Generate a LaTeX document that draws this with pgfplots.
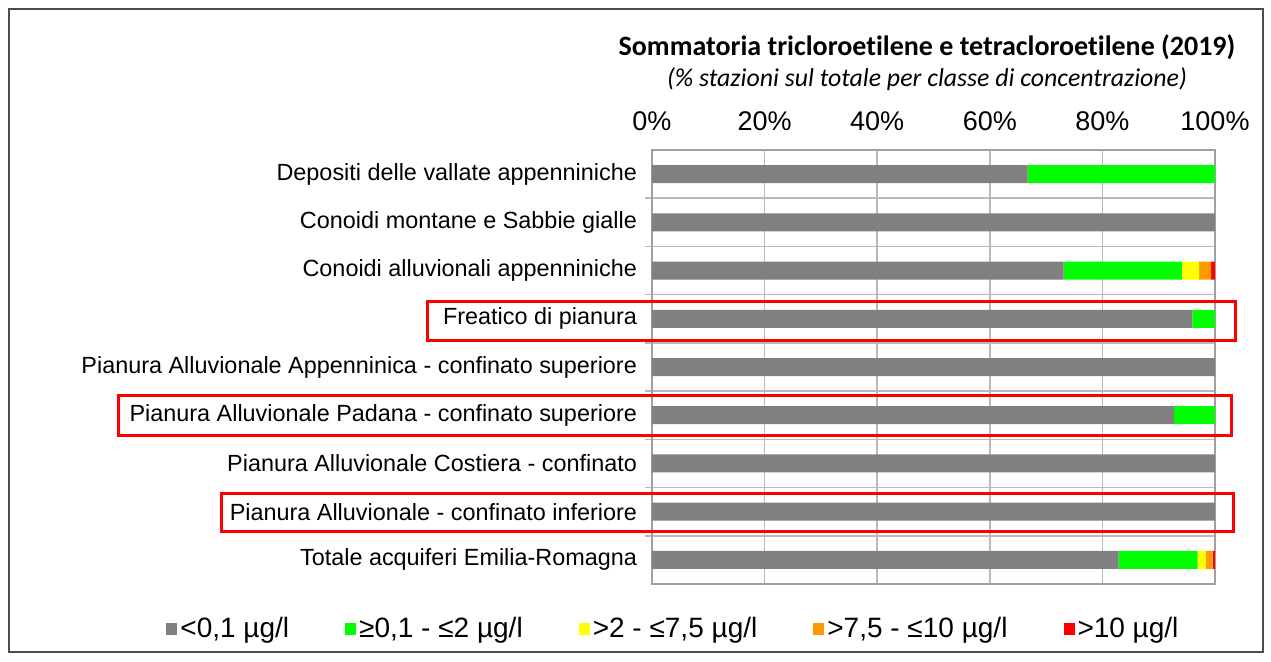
\documentclass[border=0pt]{standalone}
\usepackage{pgfplots}
\pgfplotsset{compat=1.18}
\usepackage{fontspec}
\setmainfont{Liberation Sans}
\newfontfamily\calibri[Ligatures=NoCommon]{Carlito}
\definecolor{cgrey}{RGB}{128,128,128}
\definecolor{cgreen}{RGB}{0,255,0}
\definecolor{cyellow}{RGB}{255,255,0}
\definecolor{corange}{RGB}{255,153,0}
\definecolor{cred}{RGB}{255,0,0}
\definecolor{gridgray}{RGB}{185,185,185}
\definecolor{axgray}{RGB}{160,160,160}
\pgfplotsset{sqlegend/.style={legend image code/.code={\fill[##1] (0pt,-3pt) rectangle (5.5pt,3pt);}}}
\begin{document}
\begin{tikzpicture}[x=1pt,y=1pt]
\useasboundingbox (0,0) rectangle (635.5,330.5);
\draw[line width=1.1pt, draw=black!70] (4.5,4.5) rectangle (631.5,326);
\node[font=\calibri\bfseries\fontsize{14}{16}\selectfont] at (463.5,307) {Sommatoria tricloroetilene e tetracloroetilene (2019)};
\node[font=\calibri\itshape\fontsize{12.9}{15}\selectfont] at (463.5,291) {(\% stazioni sul totale per classe di concentrazione)};
\begin{axis}[at={(326pt,38.5pt)}, anchor=south west, scale only axis,
  width=281.5pt, height=217pt,
  xbar stacked, bar width=9pt,
  xmin=0, xmax=100, ymin=-0.5, ymax=8.5, y dir=reverse,
  clip=false,
  xtick={0,20,...,100},
  xticklabel pos=upper,
  xticklabel={\pgfmathprintnumber[assume math mode=true]{\tick}\%},
  xticklabel style={font=\fontsize{13.5}{15}\selectfont, yshift=6pt},
  xmajorgrids, major grid style={gridgray, line width=0.8pt},
  ytick={0,...,8},
  yticklabels={Depositi delle vallate appenniniche, Conoidi montane e Sabbie gialle, Conoidi alluvionali appenniniche, Freatico di pianura, Pianura Alluvionale Appenninica - confinato superiore, Pianura Alluvionale Padana - confinato superiore, Pianura Alluvionale Costiera - confinato, Pianura Alluvionale - confinato inferiore, Totale acquiferi Emilia-Romagna},
  yticklabel style={font=\fontsize{11.7}{13}\selectfont, xshift=-4pt},
  minor ytick={0.5,1.5,...,7.5},
  yminorgrids, minor grid style={gridgray, line width=0.8pt},
  major tick length=0pt, minor tick length=3.5pt,
  tick align=outside, ytick pos=left,
  every tick/.style={gridgray, line width=0.8pt},
  axis line style={axgray, line width=0.8pt},
  legend columns=5,
  legend style={at={(0.039,-0.104)}, anchor=center, draw=none, fill=none,
    font=\fontsize{14}{16}\selectfont,
    nodes={inner sep=1.5pt},
    /tikz/every even column/.append style={column sep=26.5pt}},
]
\addplot[fill=cgrey, draw=none, sqlegend] coordinates {(66.7,0) (100,1) (73.1,2) (96.0,3) (100,4) (92.7,5) (100,6) (100,7) (82.9,8)};
\addlegendentry{<0,1 µg/l}
\addplot[fill=cgreen, draw=none, sqlegend] coordinates {(33.3,0) (0,1) (21.0,2) (4.0,3) (0,4) (7.3,5) (0,6) (0,7) (14.0,8)};
\addlegendentry{≥0,1 - ≤2 µg/l}
\addplot[fill=cyellow, draw=none, sqlegend] coordinates {(0,0) (0,1) (3.1,2) (0,3) (0,4) (0,5) (0,6) (0,7) (1.5,8)};
\addlegendentry{>2 - ≤7,5 µg/l}
\addplot[fill=corange, draw=none, sqlegend] coordinates {(0,0) (0,1) (2.1,2) (0,3) (0,4) (0,5) (0,6) (0,7) (1.2,8)};
\addlegendentry{>7,5 - ≤10 µg/l}
\addplot[fill=cred, draw=none, sqlegend] coordinates {(0,0) (0,1) (0.7,2) (0,3) (0,4) (0,5) (0,6) (0,7) (0.4,8)};
\addlegendentry{>10 µg/l}
\draw[cred, line width=1.5pt] (axis cs:-39.8,2.65) rectangle (axis cs:103.6,3.44);
\draw[cred, line width=1.5pt] (axis cs:-94.8,4.60) rectangle (axis cs:103.0,5.43);
\draw[cred, line width=1.5pt] (axis cs:-76.4,6.63) rectangle (axis cs:103.2,7.42);
\end{axis}
\end{tikzpicture}
\end{document}
